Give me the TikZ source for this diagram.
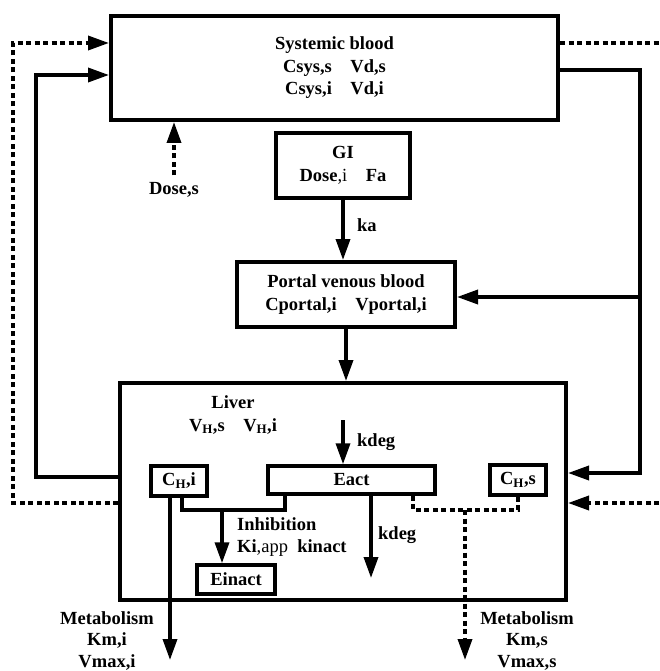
\documentclass[tikz,border=0pt]{standalone}
\usepackage{fontspec}
\setmainfont{Liberation Serif}
\usetikzlibrary{arrows.meta,positioning,calc}

\begin{document}
\begin{tikzpicture}[x=1pt,y=-1pt,
  font=\fontsize{18.5}{22.5}\selectfont\bfseries,
  box/.style={rectangle, draw, line width=4pt, inner sep=0pt, align=center},
  sbox/.style={rectangle, draw, line width=3.5pt, inner sep=0pt, align=center},
  lbl/.style={inner sep=0pt, align=center},
  flow/.style={-{Triangle[length=21pt,width=14pt]}, line width=3.5pt},
  dflow/.style={flow, dash pattern=on 5pt off 3.5pt},
  link/.style={line width=3.5pt},
  dlink/.style={link, dash pattern=on 5pt off 3.5pt}
]
  \useasboundingbox (0,0) rectangle (659,671);

  % compartments
  \node[box, minimum width=447pt, minimum height=104pt] (sys) at (334.5,68) {Systemic blood\\Csys,s\quad Vd,s\\Csys,i\quad Vd,i};
  \node[box, minimum width=134pt, minimum height=65pt] (gi) at (343,165.5) {GI\\Dose{\mdseries,i}\quad Fa};
  \node[box, minimum width=218pt, minimum height=65pt] (portal) at (346,294.5) {Portal venous blood\\Cportal,i\quad Vportal,i};
  \node[box, minimum width=446pt, minimum height=217pt] (liver) at (343,491.5) {};
  \node[lbl] (livlab) at (233,415) {Liver\\V\textsubscript{H},s\quad V\textsubscript{H},i};

  % inside the liver
  \node[sbox, minimum width=56pt, minimum height=30pt] (chi) at (179,481) {C\textsubscript{H},i};
  \node[sbox, minimum width=167pt, minimum height=28pt] (eact) at (351.5,480) {Eact};
  \node[sbox, minimum width=56pt, minimum height=30pt] (chs) at (518,480) {C\textsubscript{H},s};
  \node[sbox, minimum width=78pt, minimum height=29pt] (einact) at (236,579.5) {Einact};

  % labels
  \node[lbl] (doses) at (174,190) {Dose,s};
  \node[lbl, anchor=west] (ka) at (357,225) {ka};
  \node[lbl, anchor=west] (kdegtop) at (357,442) {kdeg};
  \node[lbl, anchor=west] (kdegbot) at (378,535) {kdeg};
  \node[lbl, anchor=west, align=left] (inhlab) at (237,537) {Inhibition\\Ki{\mdseries,app}\ \ kinact};
  \node[lbl, font=\fontsize{18.5}{21.5}\selectfont\bfseries] (metai) at (107,641) {Metabolism\\Km,i\\Vmax,i};
  \node[lbl, font=\fontsize{18.5}{21.5}\selectfont\bfseries] (metas) at (527,641) {Metabolism\\Km,s\\Vmax,s};

  % free ends
  \coordinate (rtop) at (659,43);
  \coordinate (rbot) at (659,503);
  \coordinate (kdegin) at (343,420);
  \coordinate (kdegout) at (371,578);
  \coordinate (inh) at (222,510);
  \coordinate (metaiend) at (170,660);
  \coordinate (metas0) at (465,510);
  \coordinate (metasend) at (465,660);

  % circulation
  \draw[dflow] (liver.west |- 0,503) -| (13,43) -- (sys.west |- 0,43);
  \draw[flow] (liver.west |- 0,477) -| (36,75) -- (sys.west |- 0,75);
  \draw[dlink] (sys.east |- 0,43) -- (rtop);
  \draw[flow] (sys.east |- 0,70) -| (640,473) -- (liver.east |- 0,473);
  \draw[flow] (640,297) -- (portal.east |- 0,297);
  \draw[dflow] (rbot) -- (liver.east |- 0,503);
  \draw[dflow] ([yshift=7pt]doses.north) -- (doses |- sys.south);
  \draw[flow] (gi.south) -- (gi.south |- portal.north);
  \draw[flow] (portal.south) -- (portal.south |- liver.north);

  % enzyme turnover and inhibition
  \draw[flow] (kdegin) -- (kdegin |- eact.north);
  \draw[flow] (kdegout |- eact.south) -- (kdegout);
  \draw[link] (chi.south -| 182,0) |- (inh) -| (eact.south -| 285,0);
  \draw[flow] (inh) -- (inh |- einact.north);

  % metabolism
  \draw[flow] (metaiend |- chi.south) -- (metaiend);
  \draw[dlink] (eact.south -| 413,0) |- (metas0) -| (chs.south);
  \draw[dflow] (metas0) -- (metasend);
\end{tikzpicture}
\end{document}
